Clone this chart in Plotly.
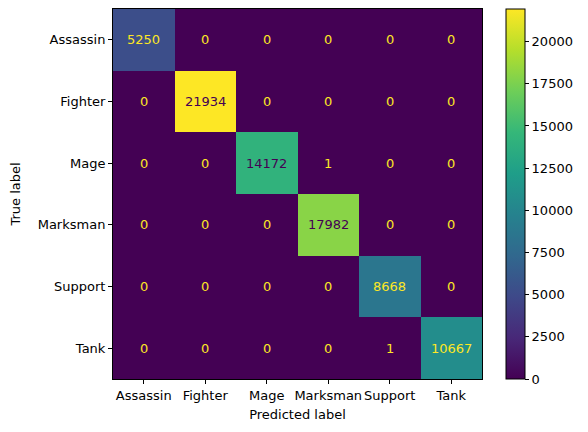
import plotly.graph_objects as go

labels = ["Assassin", "Fighter", "Mage", "Marksman", "Support", "Tank"]
cm = [
    [5250, 0, 0, 0, 0, 0],
    [0, 21934, 0, 0, 0, 0],
    [0, 0, 14172, 1, 0, 0],
    [0, 0, 0, 17982, 0, 0],
    [0, 0, 0, 0, 8668, 0],
    [0, 0, 0, 0, 1, 10667],
]
cbar_ticks = [0, 2500, 5000, 7500, 10000, 12500, 15000, 17500, 20000]

zmax = max(max(r) for r in cm)
zmin = min(min(r) for r in cm)
thresh = (zmax + zmin) / 2

fig = go.Figure(go.Heatmap(
    z=cm, x=labels, y=labels,
    colorscale="Viridis", zmin=zmin, zmax=zmax,
    colorbar=dict(
        x=1.065, xanchor="left", y=0.5, yanchor="middle",
        len=1, lenmode="fraction", thickness=19, xpad=0, ypad=0,
        outlinewidth=1, outlinecolor="black",
        ticks="outside", ticklen=4, tickcolor="black",
        tickvals=cbar_ticks, ticktext=[str(t) for t in cbar_ticks],
        tickfont=dict(size=13, color="black"),
    ),
    hoverinfo="skip",
))

for i, row in enumerate(cm):
    for j, v in enumerate(row):
        fig.add_annotation(
            x=labels[j], y=labels[i], text=str(v), showarrow=False,
            font=dict(size=13, color="#440154" if v > thresh else "#fde725"),
        )

axis_common = dict(
    showline=True, linecolor="black", linewidth=1, mirror=True,
    ticks="outside", ticklen=4, tickcolor="black",
    showgrid=False, zeroline=False, automargin=False,
    tickfont=dict(size=13, color="black"),
)
fig.update_xaxes(title=dict(text="Predicted label", font=dict(size=13, color="black"), standoff=8),
                 tickangle=0, **axis_common)
fig.update_yaxes(title=dict(text="True label", font=dict(size=13, color="black"), standoff=15),
                 autorange="reversed", **axis_common)

# page is drawn with ~8px body offset, so the figure is sized to fit the window
fig.update_layout(
    width=580, height=424,
    margin=dict(l=105, r=106, t=1, b=53, autoexpand=False),
    paper_bgcolor="white", plot_bgcolor="white",
    font=dict(family="DejaVu Sans", color="black"),
)

fig.write_html("out.html")
